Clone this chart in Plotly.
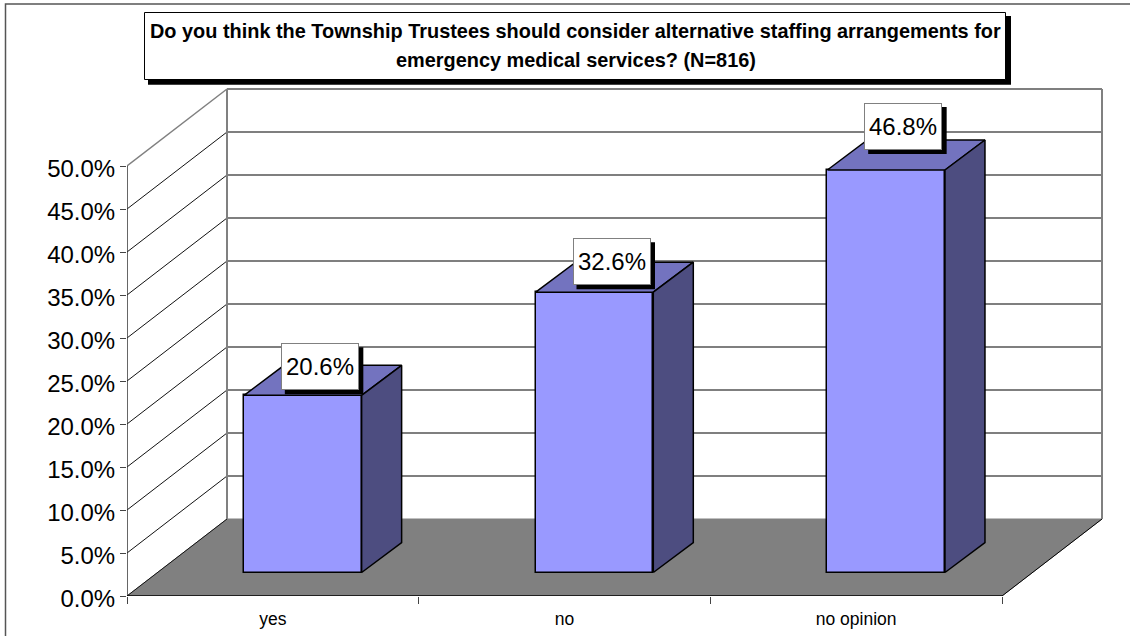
import plotly.graph_objects as go

categories = ["yes", "no", "no opinion"]
values = [20.6, 32.6, 46.8]
value_labels = ["20.6%", "32.6%", "46.8%"]
y_ticks = [0, 5, 10, 15, 20, 25, 30, 35, 40, 45, 50]
y_tick_labels = ["0.0%", "5.0%", "10.0%", "15.0%", "20.0%", "25.0%", "30.0%", "35.0%", "40.0%", "45.0%", "50.0%"]
title_lines = [
    "Do you think the Township Trustees should consider alternative staffing arrangements for",
    "emergency medical services? (N=816)",
]

# canvas geometry (px)
W, H = 1130, 636
L, R, T, B = 127, 1110, 84, 596
PX_X = 875 / 3      # px per category
PX_Y = 8.6          # px per percentage point
xu = lambda px: px / PX_X
yu = lambda px: px / PX_Y
WALL_DX, WALL_DY = xu(100), yu(77)
BAR_W = xu(117.6)
BAR_OX, BAR_OY = xu(30), yu(23.5)
BAR_DX, BAR_DY = xu(40), yu(30)
LABEL_SHIFT = [(17, 29), (17, 31), (17, 44)]

X0, X1 = 0.5, 3.5
GRID = "#555555"
FRONT, TOP, SIDE = "#9999FF", "#7373BF", "#4D4D80"
FLOOR = "#808080"

fig = go.Figure()


def poly(xs, ys, fill, line="black", width=1.5, z=2):
    fig.add_trace(go.Scatter(x=xs, y=ys, mode="lines", fill="toself", fillcolor=fill,
                             line=dict(color=line, width=width), hoverinfo="skip",
                             showlegend=False, zorder=z))


def seg(xs, ys, color, width, z=0):
    fig.add_trace(go.Scatter(x=xs, y=ys, mode="lines", line=dict(color=color, width=width),
                             hoverinfo="skip", showlegend=False, zorder=z))


# floor
poly([X0, X1, X1 + WALL_DX, X0 + WALL_DX, X0], [0, 0, WALL_DY, WALL_DY, 0], FLOOR, line=FLOOR, width=1, z=0)
seg([X1, X1 + WALL_DX], [0, WALL_DY], "black", 1)
# walls / gridlines
for v in y_ticks:
    top = v == y_ticks[-1]
    if v > 0:
        seg([X0 + WALL_DX, X1 + WALL_DX], [v + WALL_DY, v + WALL_DY], GRID, 1.5)
    seg([X0, X0 + WALL_DX], [v, v + WALL_DY], "#808080" if top else "#111111", 1.5 if top else 1)
seg([X0 + WALL_DX, X0 + WALL_DX], [WALL_DY, y_ticks[-1] + WALL_DY], "#808080", 2)
seg([X1 + WALL_DX, X1 + WALL_DX], [WALL_DY, y_ticks[-1] + WALL_DY], "#808080", 2)
seg([X0, X0], [0, y_ticks[-1]], "#333333", 1.5)
seg([X0, X1], [0, 0], "black", 1.5, z=1)

# bars
xc = [i + 1 + BAR_OX for i in range(len(values))]
fig.add_trace(go.Bar(x=xc, y=values, base=BAR_OY, width=BAR_W,
                     marker=dict(color=FRONT, line=dict(color="black", width=1.5)),
                     hoverinfo="skip", showlegend=False, zorder=1))
for c, v in zip(xc, values):
    xl, xr = c - BAR_W / 2, c + BAR_W / 2
    b, t = BAR_OY, BAR_OY + v
    poly([xl, xr, xr + BAR_DX, xl + BAR_DX, xl], [t, t, t + BAR_DY, t + BAR_DY, t], TOP)
    poly([xr, xr + BAR_DX, xr + BAR_DX, xr, xr], [b, b + BAR_DY, t + BAR_DY, t, b], SIDE)

px = lambda x: (x - L) / (R - L)
py = lambda y: (B - y) / (B - T)

shapes = [
    # outer frame, running off the right and bottom edges
    dict(type="rect", xref="paper", yref="paper", x0=px(5.5), x1=px(1140), y0=py(650), y1=py(4),
         line=dict(color="#555555", width=1.5), layer="below"),
    # title box
    dict(type="rect", xref="paper", yref="paper", x0=px(148), x1=px(1011), y0=py(84.7), y1=py(16),
         fillcolor="black", line=dict(width=0), layer="above"),
    dict(type="rect", xref="paper", yref="paper", x0=px(144.5), x1=px(1005.5), y0=py(79.5), y1=py(12.5),
         fillcolor="white", line=dict(color="black", width=1), layer="above"),
]
annotations = []
for line, y_px in zip(title_lines, [31, 60]):
    annotations.append(dict(text="<b>" + line + "</b>", xref="paper", yref="paper", x=px(575.5), y=py(y_px),
                            showarrow=False, xanchor="center", yanchor="middle",
                            font=dict(family="Liberation Sans", size=19.9, color="black")))
for c, v, lab, (sx, sy) in zip(xc, values, value_labels, LABEL_SHIFT):
    t = BAR_OY + v
    shapes.append(dict(type="rect", xref="x", yref="y", xsizemode="pixel", ysizemode="pixel",
                       xanchor=c, yanchor=t, x0=sx - 35, x1=sx + 43.5, y0=sy - 28, y1=sy + 19,
                       fillcolor="black", line=dict(width=0), layer="above"))
    annotations.append(dict(text=lab, x=c, y=t, xshift=sx, yshift=sy, showarrow=False,
                            xanchor="center", yanchor="middle", width=76, height=45,
                            bgcolor="white", bordercolor="#808080", borderwidth=1, borderpad=0,
                            font=dict(family="Liberation Sans", size=24, color="black")))

fig.update_layout(
    width=W, height=H, autosize=False,
    margin=dict(l=L, r=W - R, t=T, b=H - B, pad=0, autoexpand=False),
    paper_bgcolor="white", plot_bgcolor="rgba(0,0,0,0)",
    showlegend=False, bargap=0,
    shapes=shapes, annotations=annotations,
    font=dict(family="Liberation Sans", color="black"),
    xaxis=dict(range=[X0, X0 + (R - L) / PX_X], tickvals=[1, 2, 3], ticktext=categories,
               showgrid=False, zeroline=False, showline=False, automargin=False,
               ticks="outside", ticklen=7, tickcolor="rgba(0,0,0,0)", tickfont=dict(size=17.5),
               minor=dict(tickvals=[0.5, 1.5, 2.5, 3.5], ticks="outside", ticklen=7, tickcolor="#444444", tickwidth=1)),
    yaxis=dict(range=[0, (B - T) / PX_Y], tickvals=y_ticks, ticktext=y_tick_labels,
               showgrid=False, zeroline=False, showline=False, automargin=False,
               ticks="outside", ticklen=6, tickcolor="#444444", tickwidth=1, tickfont=dict(size=24),
               ticklabelshift=3),
)

fig.write_html("out.html", config={"displayModeBar": False}, post_script="document.body.style.margin='0';")
